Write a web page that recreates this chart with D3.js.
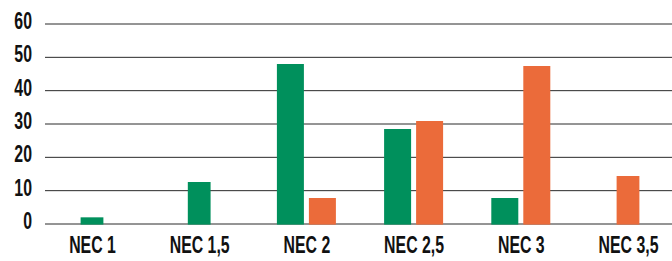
<!DOCTYPE html>
<html>
<head>
<meta charset="utf-8">
<script src="https://cdn.jsdelivr.net/npm/d3@7"></script>
<style>
  body { margin: 0; background: #fff; }
  text { font-family: "Liberation Sans", Arial, sans-serif; font-weight: bold; fill: #111; }
</style>
</head>
<body>
<div id="container"></div>
<script>
// Chart data
const categories = ["NEC 1", "NEC 1,5", "NEC 2", "NEC 2,5", "NEC 3", "NEC 3,5"];
const greenValues = [2, 12.6, 48, 28.5, 7.8, null];
const orangeValues = [null, null, 7.8, 30.9, 47.4, 14.4];
const yTicks = [0, 10, 20, 30, 40, 50, 60];

const series = [
    { name: "green", values: greenValues, color: "#00905c" },
    { name: "orange", values: orangeValues, color: "#eb6b3a" }
];

// Dimensions
const width = 672;
const height = 261;
const gridLeft = 45;
const barWidth = 27;
const barStep = 32;
const fontSize = 23;
const squeeze = 0.69; // condensed look for the labels

// Scales
const x = d3.scalePoint()
    .domain(categories)
    .range([92, 628]);

const y = d3.scaleLinear()
    .domain([0, 60])
    .range([224, 24]);

const svg = d3.select("#container")
    .append("svg")
    .attr("width", width)
    .attr("height", height);

// Gridlines
svg.append("g")
    .selectAll("line")
    .data(yTicks)
    .join("line")
    .attr("x1", gridLeft)
    .attr("x2", width)
    .attr("y1", d => y(d))
    .attr("y2", d => y(d))
    .attr("stroke", "#2a2a2a")
    .attr("stroke-width", 1);

// Y axis labels
const yAxis = svg.append("g")
    .attr("transform", `translate(32,0)`)
    .call(d3.axisLeft(y).tickValues(yTicks).tickSize(0).tickPadding(0));
yAxis.select(".domain").remove();
yAxis.selectAll("text")
    .attr("x", 0)
    .attr("dy", "0.2em")
    .attr("font-size", fontSize)
    .attr("font-family", null)
    .attr("fill", null)
    .attr("transform", `scale(${squeeze},1)`);

// Bars
categories.forEach((cat, i) => {
    const present = series.filter(s => s.values[i] != null);
    const w = present.length * barStep - (barStep - barWidth);
    const cx = x(cat);
    const inner = d3.scaleBand()
        .domain(present.map(s => s.name))
        .range([cx - w / 2, cx + w / 2])
        .paddingInner((barStep - barWidth) / barStep);
    svg.append("g")
        .selectAll("rect")
        .data(present)
        .join("rect")
        .attr("x", s => inner(s.name))
        .attr("width", inner.bandwidth())
        .attr("y", s => y(s.values[i]))
        .attr("height", s => y(0) + 0.6 - y(s.values[i]))
        .attr("fill", s => s.color);
});

// X axis labels
const xAxis = svg.append("g")
    .attr("transform", `translate(0,253)`)
    .call(d3.axisBottom(x).tickSize(0).tickPadding(0));
xAxis.select(".domain").remove();
xAxis.selectAll("text")
    .attr("y", 0)
    .attr("dy", 0)
    .attr("font-size", fontSize)
    .attr("font-family", null)
    .attr("fill", null)
    .attr("transform", `scale(${squeeze},1)`);
</script>
</body>
</html>
